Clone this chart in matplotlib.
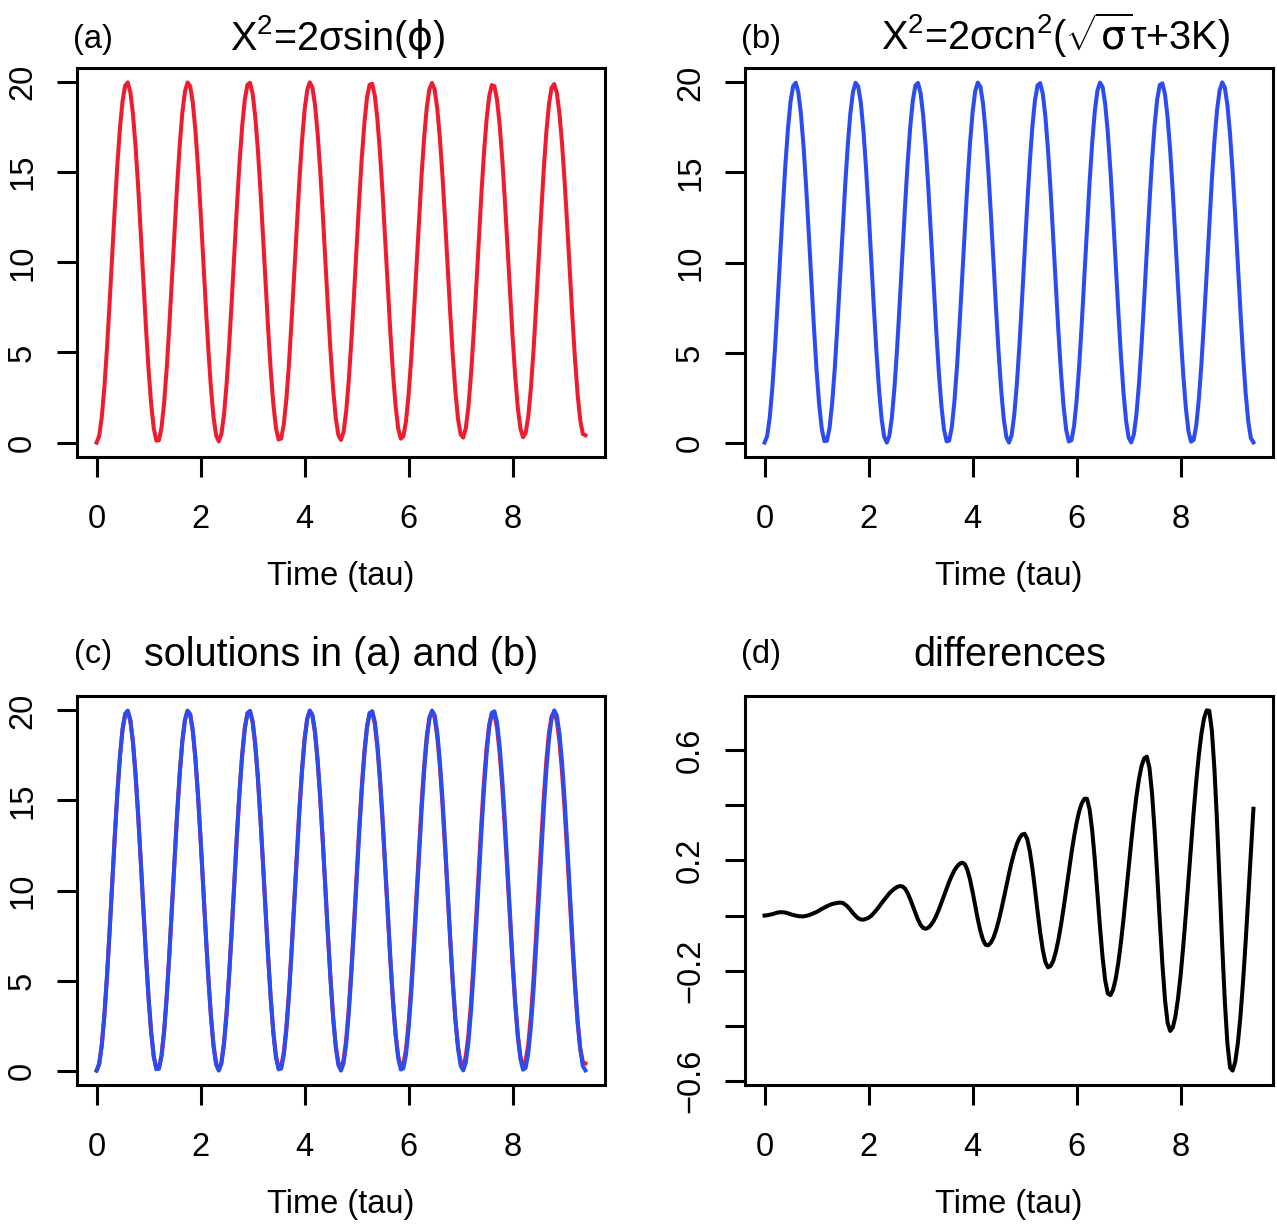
import numpy as np
import matplotlib
matplotlib.use("Agg")
import matplotlib.pyplot as plt

plt.rcParams['font.family'] = ['Liberation Sans', 'DejaVu Sans']
plt.rcParams['mathtext.fontset'] = 'custom'
plt.rcParams['mathtext.rm'] = 'Liberation Sans'
plt.rcParams['mathtext.it'] = 'DejaVu Sans'
plt.rcParams['mathtext.sf'] = 'Liberation Sans'
plt.rcParams['mathtext.bf'] = 'Liberation Sans:bold'

# ---------------- data ----------------
# sample times 0.00, 0.05, ..., 9.40
tau = np.round(np.arange(189) * 0.05, 2)

# (b) X^2 = 2 sigma cn^2(...)   (blue)
x2_cn = [
    0.00, 0.36, 1.40, 3.05, 5.20, 7.69, 10.35, 12.98, 15.40, 17.43,
    18.94, 19.80, 19.98, 19.44, 18.23, 16.43, 14.18, 11.63, 8.96, 6.37,
    4.03, 2.12, 0.77, 0.08, 0.10, 0.82, 2.19, 4.12, 6.47, 9.07,
    11.73, 14.27, 16.51, 18.29, 19.47, 19.98, 19.78, 18.89, 17.36, 15.31,
    12.88, 10.24, 7.59, 5.11, 2.98, 1.34, 0.33, 0.00, 0.38, 1.45,
    3.13, 5.30, 7.80, 10.45, 13.08, 15.49, 17.50, 18.98, 19.83, 19.97,
    19.40, 18.16, 16.36, 14.08, 11.52, 8.85, 6.27, 3.94, 2.06, 0.73,
    0.07, 0.11, 0.86, 2.26, 4.20, 6.57, 9.17, 11.84, 14.37, 16.59,
    18.35, 19.51, 19.99, 19.76, 18.84, 17.28, 15.22, 12.77, 10.13, 7.49,
    5.02, 2.90, 1.29, 0.30, 0.00, 0.41, 1.51, 3.21, 5.39, 7.90,
    10.56, 13.18, 15.58, 17.57, 19.03, 19.84, 19.96, 19.36, 18.10, 16.26,
    13.98, 11.41, 8.75, 6.17, 3.86, 1.99, 0.69, 0.06, 0.13, 0.90,
    2.33, 4.29, 6.67, 9.28, 11.94, 14.47, 16.67, 18.41, 19.54, 19.99,
    19.74, 18.79, 17.21, 15.12, 12.67, 10.03, 7.38, 4.92, 2.83, 1.24,
    0.28, 0.01, 0.45, 1.57, 3.29, 5.49, 8.01, 10.67, 13.28, 15.66,
    17.64, 19.08, 19.86, 19.95, 19.33, 18.04, 16.18, 13.88, 11.31, 8.64,
    6.07, 3.78, 1.93, 0.65, 0.05, 0.15, 0.95, 2.40, 4.38, 6.77,
    9.39, 12.05, 14.56, 16.75, 18.46, 19.57, 20.00, 19.71, 18.73, 17.13,
    15.03, 12.57, 9.92, 7.28, 4.83, 2.75, 1.19, 0.25, 0.01,
]

# (a) X^2 = 2 sigma sin(phi)   (red)
x2_sin = [
    0.00, 0.36, 1.40, 3.06, 5.21, 7.70, 10.36, 12.99, 15.41, 17.44,
    18.95, 19.80, 19.98, 19.44, 18.23, 16.43, 14.18, 11.63, 8.97, 6.38,
    4.04, 2.14, 0.79, 0.11, 0.13, 0.86, 2.23, 4.16, 6.52, 9.12,
    11.78, 14.31, 16.54, 18.31, 19.48, 19.98, 19.77, 18.88, 17.35, 15.30,
    12.87, 10.24, 7.60, 5.13, 3.01, 1.39, 0.39, 0.07, 0.46, 1.54,
    3.23, 5.40, 7.91, 10.56, 13.18, 15.57, 17.56, 19.02, 19.84, 19.96,
    19.37, 18.12, 16.31, 14.04, 11.49, 8.83, 6.27, 3.96, 2.11, 0.80,
    0.17, 0.23, 1.01, 2.42, 4.38, 6.76, 9.36, 12.03, 14.54, 16.72,
    18.44, 19.55, 19.98, 19.70, 18.75, 17.17, 15.11, 12.67, 10.05, 7.44,
    5.00, 2.92, 1.35, 0.41, 0.15, 0.60, 1.74, 3.47, 5.67, 8.19,
    10.86, 13.46, 15.81, 17.74, 19.13, 19.85, 19.90, 19.24, 17.93, 16.07,
    13.80, 11.25, 8.62, 6.08, 3.83, 2.02, 0.78, 0.22, 0.36, 1.19,
    2.67, 4.67, 7.08, 9.70, 12.36, 14.86, 16.98, 18.61, 19.62, 19.95,
    19.59, 18.55, 16.93, 14.83, 12.40, 9.80, 7.21, 4.82, 2.81, 1.32,
    0.45, 0.28, 0.81, 2.00, 3.79, 6.03, 8.58, 11.25, 13.82, 16.10,
    17.95, 19.23, 19.84, 19.77, 19.02, 17.65, 15.76, 13.47, 10.94, 8.34,
    5.85, 3.67, 1.93, 0.78, 0.30, 0.53, 1.44, 2.98, 5.04, 7.49,
    10.14, 12.79, 15.23, 17.28, 18.80, 19.69, 19.89, 19.40, 18.26, 16.58,
    14.47, 12.04, 9.46, 6.91, 4.59, 2.65, 1.25, 0.48, 0.40,
]

# (d) differences
x2_diff = [
    0.000, 0.001, 0.003, 0.005, 0.008, 0.011, 0.012, 0.012, 0.011, 0.008,
    0.005, 0.002, 0.000, -0.002, -0.003, -0.003, -0.001, 0.001, 0.005, 0.009,
    0.013, 0.018, 0.024, 0.029, 0.034, 0.038, 0.042, 0.044, 0.046, 0.047,
    0.046, 0.040, 0.032, 0.021, 0.009, -0.001, -0.010, -0.014, -0.015, -0.012,
    -0.008, -0.001, 0.009, 0.020, 0.032, 0.045, 0.057, 0.069, 0.081, 0.090,
    0.098, 0.104, 0.107, 0.106, 0.098, 0.082, 0.060, 0.035, 0.009, -0.015,
    -0.034, -0.045, -0.048, -0.044, -0.034, -0.020, -0.001, 0.021, 0.046, 0.072,
    0.098, 0.123, 0.145, 0.164, 0.178, 0.188, 0.192, 0.187, 0.166, 0.131,
    0.086, 0.037, -0.013, -0.056, -0.088, -0.106, -0.108, -0.099, -0.081, -0.054,
    -0.020, 0.020, 0.063, 0.108, 0.152, 0.193, 0.229, 0.259, 0.281, 0.294,
    0.297, 0.278, 0.234, 0.171, 0.095, 0.014, -0.062, -0.125, -0.169, -0.188,
    -0.183, -0.165, -0.132, -0.088, -0.034, 0.027, 0.093, 0.160, 0.225, 0.285,
    0.337, 0.379, 0.408, 0.424, 0.424, 0.385, 0.308, 0.203, 0.081, -0.043,
    -0.153, -0.236, -0.283, -0.289, -0.270, -0.231, -0.174, -0.101, -0.016, 0.077,
    0.172, 0.267, 0.355, 0.433, 0.497, 0.544, 0.571, 0.577, 0.537, 0.444,
    0.309, 0.147, -0.022, -0.179, -0.307, -0.390, -0.419, -0.406, -0.366, -0.301,
    -0.216, -0.112, 0.004, 0.128, 0.253, 0.375, 0.486, 0.583, 0.661, 0.716,
    0.745, 0.744, 0.673, 0.532, 0.339, 0.115, -0.111, -0.313, -0.466, -0.552,
    -0.563, -0.531, -0.464, -0.366, -0.241, -0.096, 0.062, 0.226, 0.388,
]

x_ticks = [0, 2, 4, 6, 8]
y_ticks_sol = [0, 5, 10, 15, 20]
y_ticks_diff = [-0.6, -0.4, -0.2, 0.0, 0.2, 0.4, 0.6]
y_ticklabels_diff = ['\u22120.6', '', '\u22120.2', '', '0.2', '', '0.6']

panel_tags = ['(a)', '(b)', '(c)', '(d)']
panel_titles = ['X$^2$=2σsin($\\phi$)',
                'X$^2$=2σcn$^2$($\\sqrt{\\sigma}$τ+3K)',
                'solutions in (a) and (b)',
                'differences']
x_label = 'Time (tau)'

RED = '#EE1C2E'
BLUE = '#2B4CF0'

# ---------------- figure ----------------
W, H = 1277, 1229
fig = plt.figure(figsize=(W / 100, H / 100), dpi=100)
fig.patch.set_facecolor('white')


def add_ax(l, t, r, b):
    return fig.add_axes([l / W, 1 - b / H, (r - l) / W, (b - t) / H])


FS = 23.5
LW_AX = 2.2


def style(ax):
    ax.margins(x=0.04, y=0.04)
    for s in ax.spines.values():
        s.set_linewidth(LW_AX)
    ax.tick_params(direction='out', length=14.5, width=LW_AX, labelsize=FS)
    ax.tick_params(axis='x', pad=19.5)
    ax.tick_params(axis='y', pad=13.5, labelrotation=90)
    for lab in ax.get_yticklabels():
        lab.set_va('center')
    ax.set_xticks(x_ticks)
    ax.set_xlabel(x_label, fontsize=FS)
    ax.xaxis.set_label_coords(0.5, -120 / 389)
    ax.xaxis.label.set_va('center')


ax_a = add_ax(77, 68, 605, 457)
ax_b = add_ax(745, 68, 1273, 457)
ax_c = add_ax(77, 696, 605, 1085)
ax_d = add_ax(745, 696, 1273, 1085)

ax_a.plot(tau, x2_sin, color=RED, lw=2.9)
ax_b.plot(tau, x2_cn, color=BLUE, lw=2.9)
ax_c.plot(tau, x2_sin, color=RED, lw=2.9)
ax_c.plot(tau, x2_cn, color=BLUE, lw=2.9)
ax_d.plot(tau, x2_diff, color='black', lw=2.9)

for ax in (ax_a, ax_b, ax_c, ax_d):
    style(ax)
for ax in (ax_a, ax_b, ax_c):
    ax.set_yticks(y_ticks_sol)
ax_d.set_yticks(y_ticks_diff)
ax_d.set_yticklabels(y_ticklabels_diff)
for ax in (ax_a, ax_b, ax_c, ax_d):
    for lab in ax.get_yticklabels():
        lab.set_rotation(90)
        lab.set_va('center')

# panel tags and titles
tag_pos = [(73, 48), (741, 48), (74, 663), (741, 663)]
title_pos = [(338, 50), (1056, 50), (341, 666), (1010, 666)]
for tag, (tx, ty) in zip(panel_tags, tag_pos):
    fig.text(tx / W, 1 - ty / H, tag, fontsize=FS, ha='left', va='baseline')
for ttl, (tx, ty) in zip(panel_titles, title_pos):
    fig.text(tx / W, 1 - ty / H, ttl, fontsize=28.5, ha='center', va='baseline')

fig.savefig('out.png', dpi=100, facecolor='white')
